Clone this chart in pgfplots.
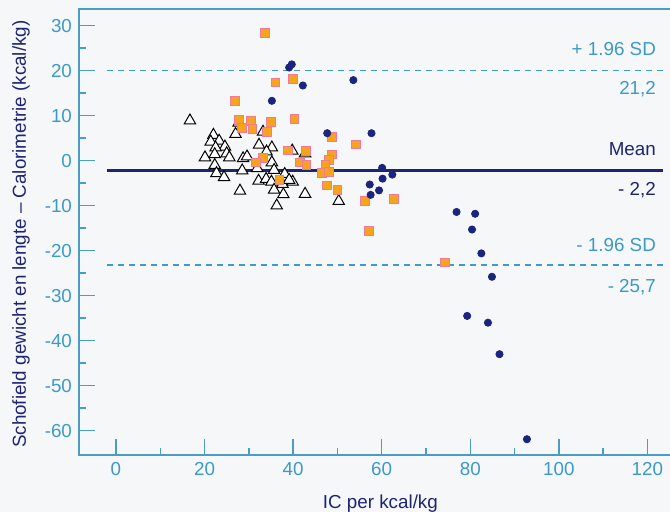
\documentclass[border=0pt]{standalone}
\usepackage{fontspec}
\setmainfont{Liberation Sans}
\usepackage{pgfplots}
\pgfplotsset{compat=1.18}
\usetikzlibrary{backgrounds}
\definecolor{tickblue}{HTML}{3B9AC6}
\definecolor{navy}{HTML}{1E2472}
\definecolor{spine}{HTML}{4A9EC6}
\definecolor{sqfill}{HTML}{F8A31E}
\definecolor{sqedge}{HTML}{F07A9A}
\definecolor{dotblue}{HTML}{1B2580}
\definecolor{dashblue}{HTML}{3D9BD2}
\definecolor{bg}{HTML}{F6F7F9}
\begin{document}
\begin{tikzpicture}
\begin{axis}[
  scale only axis, width=295.5pt, height=223pt,
  xmin=-8.35, xmax=125.1, ymin=-65.4, ymax=33.7,
  axis line style={draw=none},
  tick align=inside,
  xtick pos=bottom, ytick pos=left,
  xtick={0,20,...,120}, minor xtick={10,30,...,110},
  ytick={-60,-50,...,30}, minor ytick={-55,-45,...,25},
  major tick length=8pt, minor tick length=3.5pt,
  xtick style={draw=spine, line width=0.7pt},
  ytick style={draw=spine, line width=0.7pt},
  /pgf/number format/assume math mode=true,
  tick label style={font=\fontsize{9.4}{11}\selectfont, text=tickblue},
  xlabel={IC per kcal/kg},
  ylabel={Schofield gewicht en lengte -- Calorimetrie (kcal/kg)},
  label style={font=\fontsize{9.4}{11}\selectfont, text=navy},
  x label style={at={(axis description cs:0.51,-0.11)}, anchor=center},
  y label style={at={(axis description cs:-0.098,0.495)}, anchor=center},
  clip=false,
]
% frame lines: left, bottom, top
\draw[spine, line width=1.3pt, line cap=rect] (rel axis cs:1,1) -- (rel axis cs:0,1) -- (rel axis cs:0,0) -- (rel axis cs:1,0);
% y ticks (inside, pointing right), both ends in axis coordinates
\pgfplotsinvokeforeach{-60,-50,-40,-30,-20,-10,0,10,20,30}{
  \draw[spine, line width=0.7pt] (axis cs:-8.35,#1) -- (axis cs:-4.74,#1);
}
\pgfplotsinvokeforeach{-55,-45,-35,-25,-15,-5,5,15,25}{
  \draw[spine, line width=0.7pt] (axis cs:-8.35,#1) -- (axis cs:-6.77,#1);
}
% mean and limits of agreement
\addplot[navy, line width=1.5pt] coordinates {(-2,-2.2) (123.5,-2.2)};
\addplot[dashblue, line width=0.6pt, dash pattern=on 3pt off 2.5pt] coordinates {(-2,20.05) (123.5,20.05)};
\addplot[dashblue, line width=0.6pt, dash pattern=on 3pt off 2.5pt] coordinates {(-2,-23.2) (123.5,-23.2)};
% triangles
\addplot[only marks, mark=triangle*, mark size=3.3pt, mark options={fill=white, draw=black, line width=0.5pt}] coordinates {
(16.7,8.9) (22.0,5.7) (23.3,4.4) (21.4,4.2) (24.6,3.1) (22.5,2.9) (22.3,1.4) (25.0,1.6)
(20.1,0.7) (25.6,0.7) (22.3,-1.0) (22.7,-2.8) (24.4,-3.7) (27.0,5.9) (27.7,8.4) (32.3,3.5)
(35.2,2.9) (34.0,2.0) (28.7,0.5) (29.6,0.9) (35.2,-0.4) (28.5,-2.2) (31.9,-1.7) (35.7,-2.1)
(38.1,-3.0) (32.2,-4.5) (33.9,-4.1) (35.1,-4.7) (37.6,-5.2) (39.9,-4.7) (39.8,2.2) (35.7,-6.5)
(37.8,-7.5) (28.0,-6.7) (42.7,-7.4) (36.3,-10.0) (50.3,-9.0) (33.2,6.4) (42.7,1.6) (39.1,-4.3)
};
% squares
\addplot[only marks, mark=square*, mark size=2.2pt, mark options={fill=sqfill, draw=sqedge, line width=0.4pt}] coordinates {
(33.6,28.3) (36.0,17.4) (40.0,18.2) (26.8,13.3) (40.3,9.2) (27.7,9.0) (30.4,8.9) (34.9,8.7)
(28.4,7.2) (30.8,7.1) (34.1,6.4) (48.8,5.3) (54.1,3.6) (38.9,2.3) (42.8,2.2) (48.8,1.4)
(33.2,0.7) (48.1,0.2) (31.6,-0.4) (41.5,-0.4) (43.0,-0.9) (47.3,-1.0) (46.5,-2.8) (48.0,-2.5)
(36.9,-4.2) (47.6,-5.5) (50.0,-6.5) (56.2,-9.0) (62.7,-8.5) (57.2,-15.6) (74.3,-22.6)
};
% circles
\addplot[only marks, mark=*, mark size=1.8pt, mark options={fill=dotblue, draw=dotblue}] coordinates {
(39.7,21.4) (39.1,20.7) (42.2,16.7) (35.2,13.3) (53.6,17.9) (47.7,6.1) (57.7,6.1)
(60.1,-1.6) (62.4,-3.1) (60.2,-4.0) (57.3,-5.3) (59.4,-6.6) (57.5,-7.6)
(76.9,-11.4) (81.1,-11.8) (80.4,-15.3) (82.5,-20.6) (84.9,-25.8) (79.3,-34.5)
(84.0,-36.0) (86.6,-43.0) (92.8,-61.9)
};
% right-side labels
\begin{scope}[font=\fontsize{9.4}{11}\selectfont]
\node[anchor=east, text=tickblue] at (axis cs:123.5,24.8) {+ 1.96 SD};
\node[anchor=east, text=tickblue] at (axis cs:123.5,15.9) {21,2};
\node[anchor=east, text=navy] at (axis cs:123.5,2.6) {Mean};
\node[anchor=east, text=navy] at (axis cs:123.5,-6.5) {- 2,2};
\node[anchor=east, text=tickblue] at (axis cs:123.5,-18.7) {- 1.96 SD};
\node[anchor=east, text=tickblue] at (axis cs:123.5,-28.1) {- 25,7};
\end{scope}
\end{axis}
\begin{scope}[on background layer]
\fill[bg] ([xshift=-39.5pt,yshift=-28.5pt]current axis.south west) rectangle ([yshift=4.5pt]current axis.north east);
\end{scope}
\pgfresetboundingbox
\path ([xshift=-39.5pt,yshift=-28.5pt]current axis.south west) rectangle ([yshift=4.5pt]current axis.north east);
\end{tikzpicture}
\end{document}
